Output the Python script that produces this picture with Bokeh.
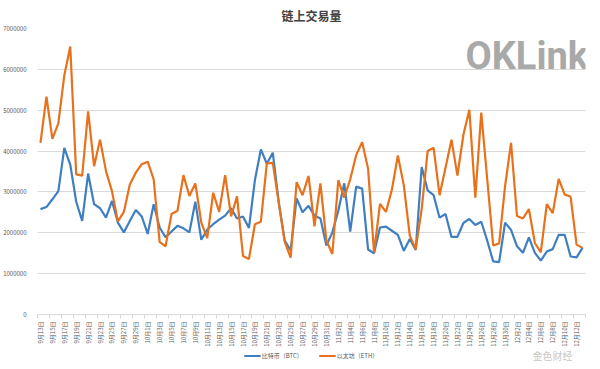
import math
from bokeh.plotting import figure
from bokeh.layouts import column
from bokeh.models import (Range1d, FixedTicker, Legend, LegendItem,
                          Label, ColumnDataSource, Title)
from bokeh.embed import file_html
from bokeh.resources import INLINE

dates = [
    "9月13日", "9月14日", "9月15日", "9月16日", "9月17日", "9月18日", "9月19日", "9月20日",
    "9月21日", "9月22日", "9月23日", "9月24日", "9月25日", "9月26日", "9月27日", "9月28日",
    "9月29日", "9月30日",
    "10月1日", "10月2日", "10月3日", "10月4日", "10月5日", "10月6日", "10月7日", "10月8日",
    "10月9日", "10月10日", "10月11日", "10月12日", "10月13日", "10月14日", "10月15日",
    "10月16日", "10月17日", "10月18日", "10月19日", "10月20日", "10月21日", "10月22日",
    "10月23日", "10月24日", "10月25日", "10月26日", "10月27日", "10月28日", "10月29日",
    "10月30日", "10月31日",
    "11月1日", "11月2日", "11月3日", "11月4日", "11月5日", "11月6日", "11月7日", "11月8日",
    "11月9日", "11月10日", "11月11日", "11月12日", "11月13日", "11月14日", "11月15日",
    "11月16日", "11月17日", "11月18日", "11月19日", "11月20日", "11月21日", "11月22日",
    "11月23日", "11月24日", "11月25日", "11月26日", "11月27日", "11月28日", "11月29日",
    "11月30日",
    "12月1日", "12月2日", "12月3日", "12月4日", "12月5日", "12月6日", "12月7日", "12月8日",
    "12月9日", "12月10日", "12月11日", "12月12日", "12月13日",
]

btc = [
    2580000, 2630000, 2820000, 3020000, 4080000, 3670000, 2760000, 2290000, 3450000, 2700000,
    2600000, 2370000, 2780000, 2250000, 2010000, 2290000, 2560000, 2400000, 1970000, 2700000,
    2130000, 1890000, 2030000, 2170000, 2110000, 2010000, 2760000, 1830000, 2080000, 2210000,
    2320000, 2420000, 2600000, 2350000, 2400000, 2120000, 3290000, 4040000, 3690000, 3960000,
    2750000, 1810000, 1570000, 2840000, 2500000, 2660000, 2420000, 2350000, 1690000, 2010000,
    2540000, 3210000, 2030000, 3130000, 3080000, 1590000, 1500000, 2130000, 2150000, 2050000,
    1950000, 1560000, 1850000, 1580000, 3610000, 3040000, 2920000, 2370000, 2460000, 1900000,
    1900000, 2240000, 2340000, 2190000, 2270000, 1810000, 1300000, 1280000, 2250000, 2070000,
    1670000, 1510000, 1890000, 1510000, 1320000, 1540000, 1600000, 1950000, 1950000, 1420000,
    1400000, 1630000,
]

eth = [
    4200000, 5330000, 4300000, 4680000, 5850000, 6560000, 3430000, 3400000, 4970000, 3630000,
    4280000, 3510000, 3020000, 2280000, 2510000, 3180000, 3470000, 3680000, 3740000, 3310000,
    1780000, 1670000, 2460000, 2540000, 3410000, 2900000, 3210000, 2250000, 1870000, 2980000,
    2510000, 3410000, 2400000, 2890000, 1430000, 1360000, 2210000, 2270000, 3700000, 3710000,
    2740000, 1780000, 1390000, 3240000, 2920000, 3390000, 2160000, 3210000, 1810000, 1480000,
    3290000, 2860000, 3310000, 3900000, 4220000, 3570000, 1520000, 2710000, 2510000, 3060000,
    3890000, 3160000, 1930000, 1600000, 2580000, 4000000, 4080000, 2920000, 3590000, 4280000,
    3400000, 4400000, 5010000, 2860000, 4940000, 3310000, 1690000, 1740000, 3140000, 4200000,
    2410000, 2350000, 2580000, 1750000, 1520000, 2700000, 2480000, 3320000, 2940000, 2880000,
    1710000, 1630000,
]

y_ticks = [0, 1000000, 2000000, 3000000, 4000000, 5000000, 6000000, 7000000]
series_names = ["比特币（BTC）", "以太坊（ETH）"]
series_colors = ["#3f7fc1", "#e8711c"]

idx = list(range(len(dates)))
src = ColumnDataSource(dict(x=idx, btc=btc, eth=eth))

FONT = "Noto Sans CJK SC"

p = figure(width=586, height=349, output_backend="svg", toolbar_location=None,
           x_range=Range1d(-0.5, len(dates) - 0.5), y_range=Range1d(0, 7000000),
           min_border_left=28, min_border_right=1, min_border_top=28, min_border_bottom=33)
p.outline_line_color = None
p.background_fill_color = "white"
p.border_fill_color = "white"

p.title = Title(text="链上交易量", align="center", text_font=FONT, text_font_size="12px",
                text_font_style="bold", text_color="#404040", offset=-15, standoff=9)

# y axis
ya = p.yaxis[0]
ya.ticker = FixedTicker(ticks=y_ticks)
ya.axis_line_color = None
ya.major_tick_line_color = None
ya.minor_tick_line_color = None
ya.major_label_text_font = FONT
ya.major_label_text_font_size = "6px"
ya.major_label_text_color = "#595959"
ya.major_label_standoff = 5
ya.formatter.use_scientific = False
p.ygrid.ticker = FixedTicker(ticks=y_ticks)
p.ygrid.grid_line_color = "#d9d9d9"
p.xgrid.grid_line_color = None

# x axis: date labels on every other day, tick marks between categories
label_ticks = list(range(0, len(dates), 2))
boundary_ticks = [i - 0.5 for i in range(0, len(dates) + 1, 2)]
xa = p.xaxis[0]
xa.ticker = FixedTicker(ticks=label_ticks, minor_ticks=boundary_ticks)
xa.major_label_overrides = {i: dates[i] for i in label_ticks}
xa.axis_line_color = "#d9d9d9"
xa.major_tick_line_color = None
xa.major_tick_out = 0
xa.major_tick_in = 0
xa.minor_tick_line_color = "#d9d9d9"
xa.minor_tick_out = 4
xa.minor_tick_in = 0
xa.major_label_orientation = math.pi / 2
xa.major_label_standoff = 3
xa.major_label_text_font = FONT
xa.major_label_text_font_size = "6px"
xa.major_label_text_color = "#595959"

p.line("x", "btc", source=src, line_color=series_colors[0], line_width=2.2)
p.line("x", "eth", source=src, line_color=series_colors[1], line_width=2.2)

# watermark
p.add_layout(Label(x=428, y=259, x_units="screen", y_units="screen", text="OKLink",
                   text_font="Roboto", text_font_style="bold", text_font_size="38px",
                   text_color="#a9a9a9", text_baseline="alphabetic"))

# legend strip below the axis labels (same data, drawn outside its own range)
lg = figure(width=586, height=12, output_backend="svg", toolbar_location=None,
            x_range=Range1d(0, 1), y_range=Range1d(0, 1),
            x_axis_location=None, y_axis_location=None,
            min_border_left=0, min_border_right=0, min_border_top=0, min_border_bottom=0)
lg.grid.visible = False
lg.outline_line_color = None
lg.border_fill_color = "white"
r_btc = lg.line("x", "btc", source=src, line_color=series_colors[0], line_width=2.2)
r_eth = lg.line("x", "eth", source=src, line_color=series_colors[1], line_width=2.2)
legend = Legend(items=[LegendItem(label=series_names[0], renderers=[r_btc]),
                       LegendItem(label=series_names[1], renderers=[r_eth])],
                orientation="horizontal", location="center")
legend.border_line_color = None
legend.background_fill_alpha = 0
legend.label_text_font = FONT
legend.label_text_font_size = "6px"
legend.label_text_color = "#595959"
legend.glyph_width = 17
legend.glyph_height = 6
legend.label_height = 6
legend.label_standoff = 1
legend.spacing = 16
legend.padding = 1
legend.margin = 0
lg.add_layout(legend, "center")
lg.add_layout(Label(x=495, y=6, x_units="screen", y_units="screen", text="金色财经",
                    text_font=FONT, text_font_size="10px",
                    text_color="#c8c8c8", text_baseline="middle"))

open("out.html", "w").write(file_html(column(p, lg, spacing=0), INLINE))
